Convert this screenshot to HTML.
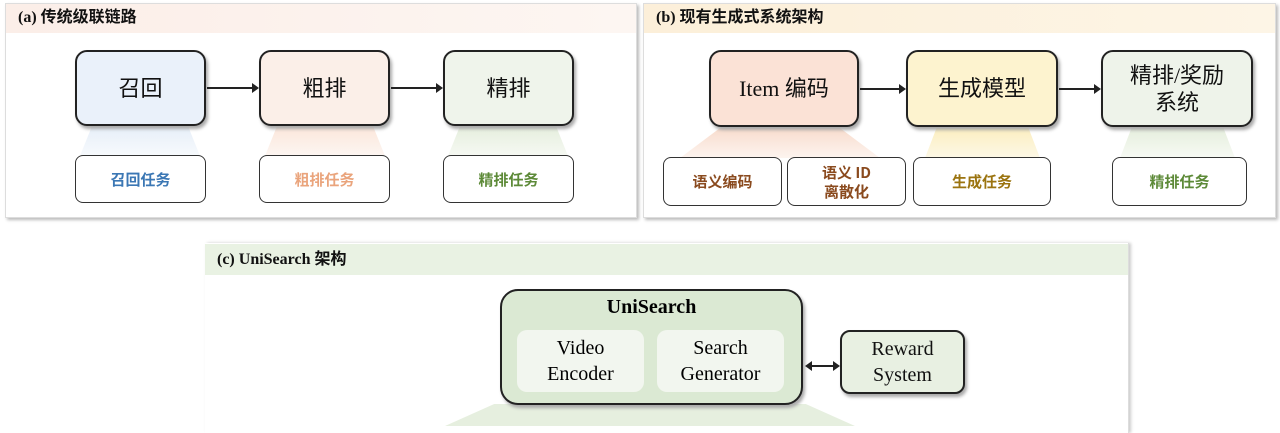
<!DOCTYPE html>
<html><head><meta charset="utf-8"><style>
body{margin:0;width:1280px;height:426px;background:#fff;position:relative;overflow:hidden;font-family:"Liberation Serif","Noto Sans CJK SC",serif}
.a{position:absolute;box-sizing:border-box}
.panel{border:1px solid #ddd;box-shadow:2px 2px 3px #bbb;background:#fff}
.hdr{font-weight:bold;font-size:16px;line-height:28px;padding-left:12px;color:#111;font-family:"Liberation Serif","Noto Sans CJK SC",serif}
.box{border:2px solid #222;border-radius:12px;display:flex;align-items:center;justify-content:center;text-align:center;font-family:"Liberation Serif","Noto Sans CJK SC",sans-serif;font-size:22px;color:#111;box-shadow:2px 3px 3px #aaa;line-height:27px}
.sm{border:1.5px solid #333;border-radius:8px;display:flex;align-items:center;justify-content:center;text-align:center;font-family:"Noto Sans CJK SC",sans-serif;font-weight:bold;font-size:15px;background:#fff;line-height:19px}
.arr{position:absolute;height:2px;background:#222}
.arr:after{content:"";position:absolute;right:-2px;top:-4px;border-left:7px solid #222;border-top:5px solid transparent;border-bottom:5px solid transparent}
.fan{clip-path:polygon(10% 0,90% 0,100% 100%,0 100%)}
</style></head><body>
<!-- panel a -->
<div class="a panel" style="left:5px;top:3px;width:632px;height:215px"></div>
<div class="a hdr" style="left:6px;top:4px;width:630px;height:29px;background:linear-gradient(90deg,#fbeee8,#fdf6f2)">(a) 传统级联链路</div>
<div class="a fan" style="left:80px;top:126px;width:120px;height:30px;background:linear-gradient(#e6eef8,#f7fafd)"></div>
<div class="a fan" style="left:265px;top:126px;width:120px;height:30px;background:linear-gradient(#fbe6da,#fdf6f2)"></div>
<div class="a fan" style="left:448px;top:126px;width:120px;height:30px;background:linear-gradient(#e5eedd,#f6f9f3)"></div>
<div class="a box" style="left:75px;top:50px;width:131px;height:76px;background:#eaf1fa">召回</div>
<div class="a box" style="left:259px;top:50px;width:131px;height:76px;background:#fbefe8">粗排</div>
<div class="a box" style="left:443px;top:50px;width:131px;height:76px;background:#eff4eb">精排</div>
<div class="arr" style="left:207px;top:87px;width:50px"></div>
<div class="arr" style="left:391px;top:87px;width:50px"></div>
<div class="a sm" style="left:75px;top:155px;width:131px;height:48px;color:#3b77b4">召回任务</div>
<div class="a sm" style="left:259px;top:155px;width:131px;height:48px;color:#eaa47c">粗排任务</div>
<div class="a sm" style="left:443px;top:155px;width:131px;height:48px;color:#5d8a38">精排任务</div>
<!-- panel b -->
<div class="a panel" style="left:643px;top:3px;width:633px;height:215px"></div>
<div class="a hdr" style="left:644px;top:4px;width:631px;height:29px;background:linear-gradient(90deg,#fcefd9,#fdf5e6)">(b) 现有生成式系统架构</div>
<div class="a" style="left:680px;top:128px;width:200px;height:30px;background:linear-gradient(#f8dccd,#fdf4ef);clip-path:polygon(20% 0,80% 0,100% 100%,0 100%)"></div>
<div class="a fan" style="left:925px;top:128px;width:115px;height:30px;background:linear-gradient(#fbeec0,#fdf8e6)"></div>
<div class="a fan" style="left:1120px;top:128px;width:115px;height:30px;background:linear-gradient(#e5eedd,#f7faf4)"></div>
<div class="a box" style="left:709px;top:50px;width:150px;height:77px;background:#fbe2d6">Item 编码</div>
<div class="a box" style="left:906px;top:50px;width:152px;height:77px;background:#fdf3cf">生成模型</div>
<div class="a box" style="left:1101px;top:50px;width:152px;height:77px;background:#eef3ea">精排/奖励<br>系统</div>
<div class="arr" style="left:860px;top:88px;width:44px"></div>
<div class="arr" style="left:1059px;top:88px;width:40px"></div>
<div class="a sm" style="left:663px;top:157px;width:119px;height:49px;color:#8a4a1e">语义编码</div>
<div class="a sm" style="left:787px;top:157px;width:119px;height:49px;color:#8a4a1e">语义 ID<br>离散化</div>
<div class="a sm" style="left:913px;top:157px;width:138px;height:49px;color:#9b7410">生成任务</div>
<div class="a sm" style="left:1112px;top:157px;width:135px;height:49px;color:#5d8a38">精排任务</div>
<!-- panel c -->
<div class="a" style="left:205px;top:243px;width:924px;height:190px;border-right:1px solid #ddd;box-shadow:2px 0 3px #ccc"></div>
<div class="a hdr" style="left:205px;top:244px;width:923px;height:31px;line-height:31px;background:#e9f2e3">(c) UniSearch 架构</div>
<div class="a" style="left:445px;top:404px;width:410px;height:22px;background:#e6efdf;clip-path:polygon(12% 0,88% 0,100% 100%,0 100%)"></div>
<div class="a box" style="left:500px;top:289px;width:303px;height:116px;background:#dbe9d3;display:block;border-radius:18px"></div>
<div class="a" style="left:500px;top:296px;width:303px;text-align:center;font-weight:bold;font-size:20px">UniSearch</div>
<div class="a" style="left:517px;top:330px;width:127px;height:62px;background:#f2f6ef;border-radius:10px;font-size:20px;text-align:center;line-height:26px;padding-top:5px">Video<br>Encoder</div>
<div class="a" style="left:657px;top:330px;width:127px;height:62px;background:#f2f6ef;border-radius:10px;font-size:20px;text-align:center;line-height:26px;padding-top:5px">Search<br>Generator</div>
<div class="a box" style="left:840px;top:330px;width:125px;height:64px;background:#e8f0e2;font-size:20px;line-height:26px;border-radius:10px">Reward<br>System</div>
<div class="arr" style="left:808px;top:365px;width:30px"></div>
<div class="a" style="left:805px;top:361px;border-right:7px solid #222;border-top:5px solid transparent;border-bottom:5px solid transparent"></div>
</body></html>
